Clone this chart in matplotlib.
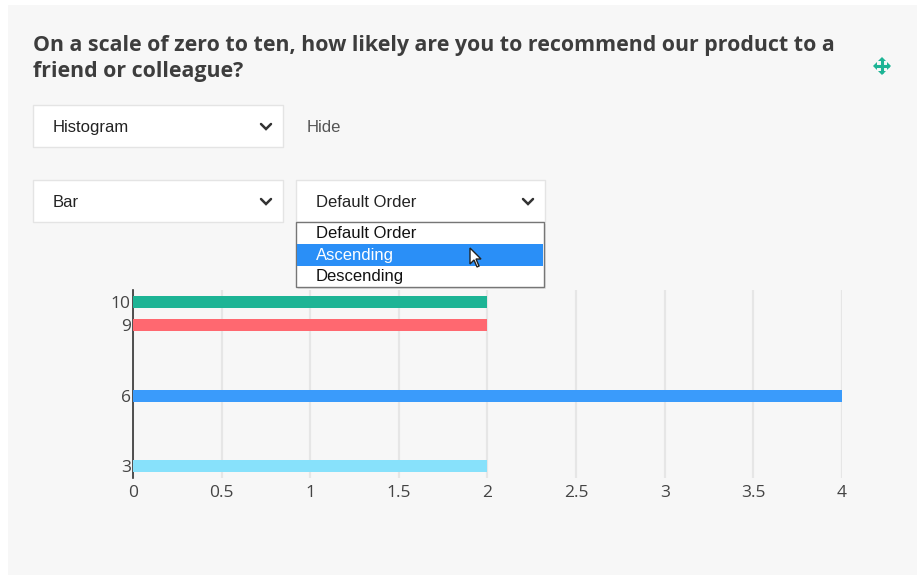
import matplotlib
matplotlib.use("Agg")
import matplotlib.pyplot as plt
from matplotlib.patches import Rectangle, Polygon

# ---- data ----
scores = [10, 9, 6, 3]
counts = [2, 2, 4, 2]
bar_colors = ["#1db495", "#ff6870", "#3a9bfb", "#87e1fb"]
x_ticks = [0, 0.5, 1, 1.5, 2, 2.5, 3, 3.5, 4]
x_tick_labels = ["0", "0.5", "1", "1.5", "2", "2.5", "3", "3.5", "4"]
title = "On a scale of zero to ten, how likely are you to recommend our product to a\nfriend or colleague?"
chart_type = "Histogram"
hide_label = "Hide"
bar_type = "Bar"
order_options = ["Default Order", "Ascending", "Descending"]
selected_order = "Default Order"
highlighted = "Ascending"

W, H = 920, 578
fig = plt.figure(figsize=(W / 100, H / 100), dpi=100)
fig.patch.set_facecolor("white")

# background UI layer (pixel coordinates)
bg = fig.add_axes([0, 0, 1, 1], zorder=0)
bg.set_xlim(0, W)
bg.set_ylim(H, 0)
bg.axis("off")
bg.add_patch(Rectangle((8, 5), 909, 570, facecolor="#f7f7f7", edgecolor="none"))

t1 = bg.text(33, 45, title.split("\n")[0], fontsize=15.5, fontweight="bold", family="Open Sans",
             color="#3d3d3d", va="center", ha="left")
t2 = bg.text(33, 71, title.split("\n")[1], fontsize=15.5, fontweight="bold", family="Open Sans",
             color="#3d3d3d", va="center", ha="left")
# fit first title line to the reference width
fig.canvas.draw()
r = fig.canvas.get_renderer()
wpx = t1.get_window_extent(r).width
fs = 15.5 * 802.0 / wpx
t1.set_fontsize(fs)
t2.set_fontsize(fs)

# move icon
cx, cy = 882, 66
ic = "#1db495"
bg.plot([cx - 7, cx + 7], [cy, cy], color=ic, lw=2.2, solid_capstyle="butt")
bg.plot([cx, cx], [cy - 7, cy + 7], color=ic, lw=2.2, solid_capstyle="butt")
for dx, dy in [(1, 0), (-1, 0), (0, 1), (0, -1)]:
    tip = (cx + dx * 9, cy + dy * 9)
    if dx:
        pts = [tip, (cx + dx * 5, cy - 4), (cx + dx * 5, cy + 4)]
    else:
        pts = [tip, (cx - 4, cy + dy * 5), (cx + 4, cy + dy * 5)]
    bg.add_patch(Polygon(pts, closed=True, facecolor=ic, edgecolor="none"))


def dropdown(ax, x, y, w, h, label):
    ax.add_patch(Rectangle((x, y), w, h, facecolor="white", edgecolor="#e4e4e4", lw=1))
    ax.text(x + 20, y + h / 2 + 1.5, label, fontsize=12, family="Liberation Sans",
            color="#222222", va="center", ha="left")
    chx = x + w - 17
    chy = y + h / 2 + 1
    ax.plot([chx - 5, chx, chx + 5], [chy - 3, chy + 2, chy - 3], color="#333333",
            lw=1.8, solid_capstyle="round", solid_joinstyle="miter")


dropdown(bg, 33, 105, 250, 42, chart_type)
bg.text(307, 127.5, hide_label, fontsize=12, family="Liberation Sans", color="#555555",
        va="center", ha="left")
dropdown(bg, 33, 180, 250, 42, bar_type)
dropdown(bg, 296, 180, 249, 42, selected_order)

# ---- chart ----
ax = fig.add_axes([133 / W, 100 / H, (842 - 133) / W, 188 / H], zorder=5)
ax.set_facecolor("none")
ax.barh(scores, counts, height=0.5, color=bar_colors, edgecolor="none", zorder=3)
ax.set_xlim(0, 4)
ax.set_ylim(2.5, 10.5)
ax.set_yticks(scores)
ax.set_yticklabels([str(s) for s in scores])
ax.set_xticks(x_ticks)
ax.set_xticklabels(x_tick_labels)
ax.tick_params(length=0, labelsize=12.5, colors="#444444")
ax.tick_params(axis="x", pad=5)
ax.tick_params(axis="y", pad=1.5)
for lab in ax.get_xticklabels() + ax.get_yticklabels():
    lab.set_family("Open Sans")
ax.xaxis.grid(True, color="#e6e6e6", lw=1.6, zorder=0)
ax.set_axisbelow(True)
for s in ["top", "right", "bottom"]:
    ax.spines[s].set_visible(False)
ax.spines["left"].set_color("#333333")
ax.spines["left"].set_linewidth(1.2)

# ---- open dropdown list overlay ----
ov = fig.add_axes([0, 0, 1, 1], zorder=10)
ov.set_xlim(0, W)
ov.set_ylim(H, 0)
ov.axis("off")
ov.set_facecolor("none")
ov.add_patch(Rectangle((298, 224), 248, 65, facecolor="#d0d0d0", edgecolor="none", alpha=0.5))
ov.add_patch(Rectangle((296, 222), 248, 65, facecolor="white", edgecolor="#767676", lw=1))
row_y = [233.5, 255.5, 276.5]
for lab, yy in zip(order_options, row_y):
    if lab == highlighted:
        ov.add_patch(Rectangle((297, 244), 246, 22, facecolor="#2a8ff7", edgecolor="none"))
        col = "white"
    else:
        col = "#111111"
    ov.text(316, yy, lab, fontsize=12, family="Liberation Sans", color=col,
            va="center", ha="left")

# cursor
px, py = 470, 248
cur = [(0, 0), (0, 16), (4, 12), (7, 19), (9, 18), (6, 11), (11, 11)]
ov.add_patch(Polygon([(px + a, py + b) for a, b in cur], closed=True,
                     facecolor="white", edgecolor="#222222", lw=1))

fig.savefig("out.png", dpi=100, facecolor=fig.get_facecolor())
